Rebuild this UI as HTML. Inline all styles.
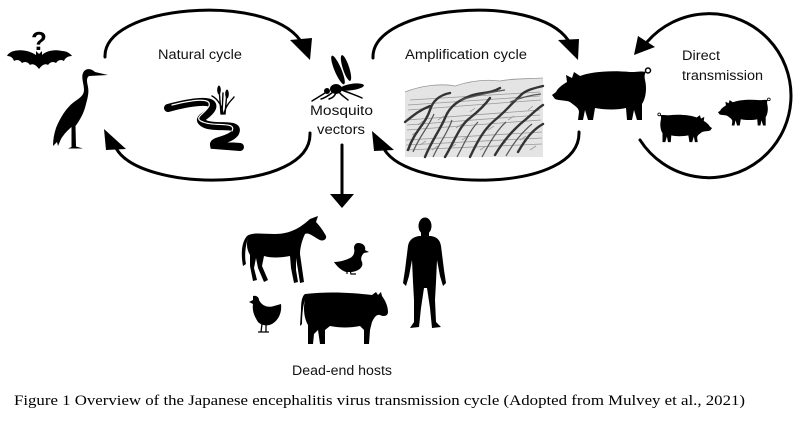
<!DOCTYPE html>
<html><head><meta charset="utf-8"><style>
html,body{margin:0;padding:0;background:#fff;}
svg{display:block;}
.lbl{font-family:"Liberation Sans",sans-serif;font-size:13.5px;fill:#111;}
.cap{font-family:"Liberation Serif",serif;font-size:14.5px;fill:#000;}
</style></head><body>
<svg width="800" height="428" viewBox="0 0 800 428" xmlns="http://www.w3.org/2000/svg">
<rect width="800" height="428" fill="#fff"/>

<g fill="none" stroke="#000" stroke-width="3" stroke-linecap="round">
<path d="M105,57 C103,5 265,-8 300,40"/>
<path d="M310,133 C312,193 140,193 116,148"/>
<path d="M373,58 C371,5 535,-8 568,40"/>
<path d="M579,132 C581,193 410,193 384,149"/>
<path d="M640,140 A82,82 0 1 0 647,42"/>
<line x1="342" y1="145" x2="342" y2="196"/>
</g>
<g fill="#000">
<polygon points="290,40 312,38 310,60"/>
<polygon points="104,129 106,150 126,149"/>
<polygon points="558,40 579,39 578,60"/>
<polygon points="372,131 374,151 394,150"/>
<polygon points="634,55 638,36 655,47"/>
<polygon points="330,194 354,194 342,208"/>
</g>

<text class="lbl" x="158" y="59" textLength="84" lengthAdjust="spacingAndGlyphs">Natural cycle</text>
<text class="lbl" x="405" y="59" textLength="122" lengthAdjust="spacingAndGlyphs">Amplification cycle</text>
<text class="lbl" x="310" y="115" textLength="63" lengthAdjust="spacingAndGlyphs">Mosquito</text>
<text class="lbl" x="317" y="134" textLength="48" lengthAdjust="spacingAndGlyphs">vectors</text>
<text class="lbl" x="682" y="60" textLength="38" lengthAdjust="spacingAndGlyphs">Direct</text>
<text class="lbl" x="682" y="80" textLength="81" lengthAdjust="spacingAndGlyphs">transmission</text>
<text class="lbl" x="292" y="375" textLength="100" lengthAdjust="spacingAndGlyphs">Dead-end hosts</text>
<text class="cap" x="14" y="405" textLength="731" lengthAdjust="spacingAndGlyphs">Figure 1 Overview of the Japanese encephalitis virus transmission cycle (Adopted from Mulvey et al., 2021)</text>

<!-- Bat + question mark -->
<text x="39" y="50" text-anchor="middle" font-family="Liberation Sans,sans-serif" font-weight="bold" font-size="26" fill="#000">?</text>
<path fill="#000" d="M39,54 L36,51 L36,55 C30,51 22,49 14,51 C10,52 8,54 7,56 C11,56 13,58 14,61 C17,59 20,60 22,63 C25,61 28,62 30,65 C33,63 36,65 39,69 C42,65 45,63 48,65 C50,62 53,61 56,63 C58,60 61,59 64,61 C65,58 68,56 72,56 C70,53 66,51 62,51 C54,49 46,51 42,55 L42,51 Z"/>

<!-- Heron -->
<path fill="#000" d="M108,75 L95,72 C91,68 85,68 83,73 C81,78 84,84 84,90 C84,95 80,98 74,102 C66,108 60,118 56,128 C54,134 53,140 53,146 L57,142 L58,146 L61,139 C64,134 68,130 71.5,127 L71.5,147 L68,148.5 L83,148.5 L76,146.5 L75.5,126 C80,120 84,113 86,104 C88,97 89,92 88,87 C87,82 86,78 89,76 Z"/>

<!-- River + cattails -->
<g fill="none" stroke-linecap="round">
<path d="M168,108 C190,102 216,98 212,108 C208,117 194,118 205,124 C216,129 241,122 235,133 C229,141 213,140 214,145 L240,147" stroke="#000" stroke-width="8"/>
<path d="M172,105 C192,100 212,97 209,106 C205,114 192,118 203,122 C214,127 237,121 232,131" stroke="#fff" stroke-width="1.2"/>
<path d="M221,114 L219,88 M225,114 L227,92 M223,114 C222,104 216,98 212,96 M224,114 C226,104 232,100 234,97 M222,114 L223,93" stroke="#000" stroke-width="1.4"/>
</g>
<ellipse cx="219" cy="90" rx="1.8" ry="4.5" fill="#000"/>
<ellipse cx="227" cy="94" rx="1.8" ry="4.5" fill="#000"/>

<!-- Mosquito -->
<g fill="#000">
<ellipse cx="352" cy="87" rx="12" ry="3.2" transform="rotate(-8 352 87)"/>
<ellipse cx="336" cy="89" rx="6" ry="5"/>
<circle cx="327" cy="91" r="3"/>
<ellipse cx="338" cy="70" rx="15.5" ry="3.4" transform="rotate(67 338 70)"/>
<ellipse cx="346" cy="68" rx="13.5" ry="3.2" transform="rotate(72 346 68)"/>
</g>
<g fill="none" stroke="#000" stroke-width="1.5" stroke-linecap="round">
<path d="M325,93 L312,101"/>
<path d="M333,92 C328,96 325,98 321,99"/>
<path d="M336,93 C334,97 332,98 329,99"/>
<path d="M339,92 C342,96 346,98 348,100"/>
<path d="M342,90 C352,94 358,96 362,98"/>
</g>

<!-- Rice terrace sketch -->
<g>
<path d="M405,92 C420,86 440,83 455,86 C470,81 485,79 500,81 C515,78 530,79 543,78 L543,157 L405,157 Z" fill="#e4e4e4"/>
<g fill="none" stroke="#999" stroke-width="0.8">
<path d="M405,92 C420,86 440,83 455,86 C470,81 485,79 500,81 C515,78 530,79 543,78"/>
<path d="M410,100 L540,92 M408,110 L541,100 M407,120 L540,110 M407,130 L541,120 M406,140 L542,132 M406,150 L542,144 M408,105 L540,96 M407,125 L540,115 M406,145 L542,138"/>
<path d="M412,135 l6,-4 M420,145 l6,-4 M432,150 l6,-4 M450,148 l6,-4 M462,140 l6,-4 M480,150 l6,-4 M500,146 l6,-4 M520,140 l6,-4 M530,150 l6,-4 M488,130 l6,-4 M508,120 l6,-4 M456,128 l6,-4 M438,120 l6,-4 M418,125 l5,-4 M470,112 l5,-4 M528,110 l5,-4"/>
</g>
<g fill="none" stroke="#333" stroke-width="2.4" stroke-linecap="round">
<path d="M408,150 C415,130 425,125 430,110 C433,100 440,95 450,93"/>
<path d="M425,157 C432,140 440,130 445,118 C450,105 460,100 470,96 C480,92 490,94 500,88"/>
<path d="M445,157 C455,140 460,125 470,118 C480,110 485,105 490,98"/>
<path d="M470,157 C478,140 485,128 495,120 C505,112 510,105 520,96 C525,90 535,88 543,86"/>
<path d="M495,155 C505,138 515,128 525,120 C532,114 538,108 543,105"/>
<path d="M518,152 C525,140 532,130 543,124"/>
<path d="M405,122 C415,114 420,110 430,106"/>
</g>
<g fill="none" stroke="#555" stroke-width="1.2">
<path d="M413,152 C420,135 428,128 434,114"/>
<path d="M433,157 C440,142 448,132 452,120"/>
<path d="M457,157 C465,142 470,130 478,122"/>
<path d="M482,157 C490,142 497,130 506,122"/>
<path d="M506,156 C514,142 522,132 532,124"/>
<path d="M460,100 C475,96 490,92 505,90 M510,102 C520,98 530,95 541,94"/>
</g>
</g>

<!-- Pigs -->
<defs>
<g id="pig">
<path fill="#000" d="M4,24 L0,27 L3,31 C8,33 14,32 18,34 C23,38 27,40 27,44 L26,52 L31,52 L33,42 L36,52 L41,52 L43,40 C53,42 66,42 74,40 L75,52 L80,52 L82,42 L85,52 L90,52 L90,36 C94,30 95,20 93,12 C92,8 93,5 94,4 C90,3 86,4 78,4 C58,2 38,4 28,8 L22,4 L20,10 L14,7 L15,14 C10,17 6,20 4,24 Z"/>
<circle cx="96" cy="2.5" r="2.5" fill="none" stroke="#000" stroke-width="1.5"/>
</g>
</defs>
<use href="#pig" transform="translate(552,68)"/>
<use href="#pig" transform="translate(718,98) scale(0.53)"/>
<use href="#pig" transform="translate(712,113) scale(-0.55,0.56)"/>

<!-- Horse -->
<path fill="#000" d="M318,216 L316,222 C320,226 324,232 326,236 C327,240 322,242 318,239 C313,236 308,232 305,234 C302,240 300,248 300,254 L302,268 L304,282 L300,283 L298,270 L296,258 L296,270 L298,282 L294,283 L291,268 L290,256 C280,258 270,258 264,256 L262,266 L268,280 L264,282 L258,268 L256,258 L254,268 L257,280 L253,281 L250,266 L250,255 C247,250 246,244 248,238 C246,244 244,255 246,264 L243,266 C241,255 241,243 247,236 C252,232 262,234 275,234 C290,234 300,228 310,219 Z"/>

<!-- Duck -->
<path fill="#000" d="M358,243 C364,243 366,247 365,250 L369,252 L364,253 C362,255 360,258 362,262 C364,267 358,272 350,272 L346,272 C340,270 336,265 334,262 C340,262 346,260 350,258 C354,256 355,252 354,248 C354,245 356,243 358,243 Z"/>
<path d="M350,270 L351,274 L356,274 M347,270 L347,274" stroke="#000" stroke-width="1.2" fill="none"/>

<!-- Human -->
<ellipse cx="425" cy="226" rx="6.5" ry="8.5" fill="#000"/>
<rect x="421" y="231" width="8" height="7" fill="#000"/>
<path fill="#000" d="M419,236 L431,236 C437,237 440,240 441,246 L444,270 L446,283 L443,286 L440,276 L437,260 L436,282 L435,300 L436,322 L441,327 L432,328 L430,308 L427,288 L424,288 L421,308 L419,327 L410,328 L414,322 L414,300 L413,282 L412,260 L409,276 L406,286 L403,283 L405,270 L408,246 C409,240 413,237 419,236 Z"/>

<!-- Chicken -->
<path fill="#000" d="M253,296 C256,295 259,297 259,300 C262,306 268,308 274,306 L281,304 C282,312 279,320 272,324 C268,326 262,326 258,322 C254,316 252,310 253,304 L249,302 L253,300 Z"/>
<path d="M262,324 L261,332 M266,324 L266,332 M258,332 L269,332" stroke="#000" stroke-width="1.3" fill="none"/>

<!-- Cow -->
<path fill="#000" d="M305,294 C330,291 355,293 372,295 L376,292 L378,295 L381,292 L382,296 C385,300 388,306 388,312 C388,316 384,317 380,315 C376,314 374,318 372,322 L370,330 L369,344 L364,344 L364,330 L360,326 C350,328 340,328 330,326 L325,330 L325,344 L320,344 L318,330 L314,334 L313,344 L308,344 L308,325 C304,318 303,308 305,300 C303,305 302,315 302,324 L300,326 L301,310 C301,302 302,296 305,294 Z"/>
</svg>
</body></html>
